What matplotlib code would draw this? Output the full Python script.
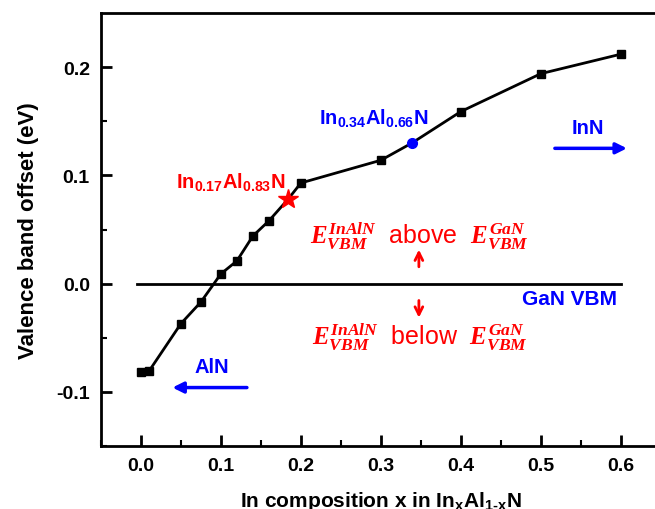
import matplotlib
matplotlib.use("Agg")
import matplotlib.pyplot as plt
import numpy as np

# In composition x and valence band offset (eV)
x_comp = [0.0, 0.01, 0.05, 0.075, 0.10, 0.12, 0.14, 0.16, 0.184, 0.20, 0.30, 0.339, 0.40, 0.50, 0.60]
vbo = [-0.082, -0.081, -0.037, -0.017, 0.009, 0.021, 0.044, 0.058, 0.078, 0.093, 0.114, 0.130, 0.159, 0.194, 0.212]

sq_x = [0.0, 0.01, 0.05, 0.075, 0.10, 0.12, 0.14, 0.16, 0.20, 0.30, 0.40, 0.50, 0.60]
sq_y = [-0.082, -0.081, -0.037, -0.017, 0.009, 0.021, 0.044, 0.058, 0.093, 0.114, 0.159, 0.194, 0.212]

star_x, star_y = 0.184, 0.078      # In0.17Al0.83N
circ_x, circ_y = 0.339, 0.130      # In0.34Al0.66N

xticks = [0.0, 0.1, 0.2, 0.3, 0.4, 0.5, 0.6]
yticks = [-0.1, 0.0, 0.1, 0.2]

plt.rcParams['font.family'] = 'Liberation Sans'
plt.rcParams['font.weight'] = 'bold'
plt.rcParams['mathtext.fontset'] = 'custom'
plt.rcParams['mathtext.rm'] = 'Liberation Sans:bold'
plt.rcParams['mathtext.bf'] = 'Liberation Sans:bold'
plt.rcParams['mathtext.it'] = 'Liberation Serif:bold:italic'

fig = plt.figure(figsize=(6.55, 5.10), dpi=100)
ax = fig.add_axes([0.154, 0.1235, 0.855, 0.849])

ax.plot([-0.005, 0.6], [0, 0], color='black', lw=2)
ax.plot(x_comp, vbo, color='black', lw=2, zorder=2)
ax.plot(sq_x, sq_y, 's', color='black', ms=6, zorder=3)
ax.plot(star_x, star_y, '*', color='red', ms=15, zorder=4)
ax.plot(circ_x, circ_y, 'o', color='blue', ms=7, zorder=4)

ax.set_xlim(-0.05, 0.65)
ax.set_ylim(-0.14, 0.25)
ax.set_xticks(xticks)
ax.set_yticks(yticks)
ax.set_xticks(np.arange(-0.05, 0.65, 0.05), minor=True)
ax.set_yticks(np.arange(-0.15, 0.25, 0.05), minor=True)
ax.xaxis.set_major_formatter(matplotlib.ticker.FormatStrFormatter('%.1f'))
ax.yaxis.set_major_formatter(matplotlib.ticker.FormatStrFormatter('%.1f'))
ax.tick_params(which='major', direction='in', length=8, width=2, labelsize=14, pad=8)
ax.tick_params(which='minor', direction='in', length=4, width=1.5)
ax.tick_params(top=False, right=False, which='both')
for s in ax.spines.values():
    s.set_linewidth(2)
ax.spines['right'].set_visible(False)

ax.set_xlabel(r"In composition x in $\mathrm{In_xAl_{1\text{-}x}N}$", fontsize=15, fontweight='bold', labelpad=11)
ax.set_ylabel("Valence band offset (eV)", fontsize=16, fontweight='bold', labelpad=12)

ax.text(0.1125, 0.089, r"$\mathrm{In_{0.17}Al_{0.83}N}$", color='red', fontsize=14.5, ha='center', va='baseline')
ax.text(0.291, 0.148, r"$\mathrm{In_{0.34}Al_{0.66}N}$", color='blue', fontsize=14.5, ha='center', va='baseline')
ax.text(0.559, 0.144, "InN", color='blue', fontsize=14.5, ha='center', va='center')
ax.annotate("", xy=(0.611, 0.125), xytext=(0.514, 0.125),
            arrowprops=dict(arrowstyle='-|>', color='blue', lw=2.5, mutation_scale=16))
ax.text(0.089, -0.077, "AlN", color='blue', fontsize=14.5, ha='center', va='center')
ax.annotate("", xy=(0.036, -0.096), xytext=(0.136, -0.096),
            arrowprops=dict(arrowstyle='-|>', color='blue', lw=2.5, mutation_scale=16))
ax.text(0.595, -0.014, "GaN VBM", color='blue', fontsize=15, ha='right', va='center')

ax.text(0.3485, 0.045, r"$E_{VBM}^{InAlN}$  above  $E_{VBM}^{GaN}$", color='red',
        fontsize=18, fontweight='normal', ha='center', va='center')
ax.text(0.3485, -0.049, r"$E_{VBM}^{InAlN}$  below  $E_{VBM}^{GaN}$", color='red',
        fontsize=18, fontweight='normal', ha='center', va='center')
ax.annotate("", xy=(0.3475, 0.034), xytext=(0.3475, 0.013),
            arrowprops=dict(arrowstyle='->', color='red', lw=2, mutation_scale=14))
ax.annotate("", xy=(0.3475, -0.034), xytext=(0.3475, -0.013),
            arrowprops=dict(arrowstyle='->', color='red', lw=2, mutation_scale=14))

plt.savefig("out.png", dpi=100)
